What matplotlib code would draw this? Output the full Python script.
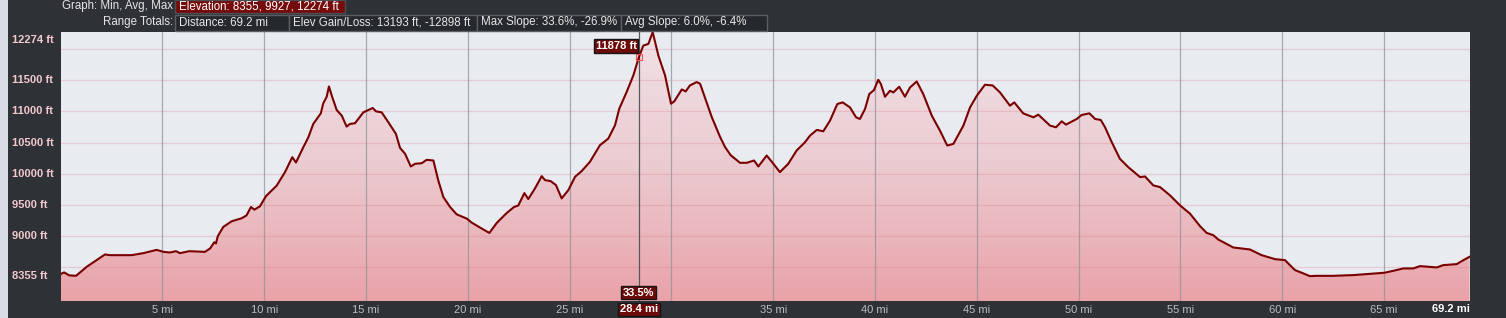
import numpy as np
import matplotlib
matplotlib.use("Agg")
import matplotlib.pyplot as plt
from matplotlib.patches import Rectangle, Polygon
from matplotlib.colors import LinearSegmentedColormap
from matplotlib.transforms import blended_transform_factory

# elevation profile (miles, feet)
distance_mi = [
    0.00, 0.17, 0.43, 0.76, 1.28, 2.18, 2.43, 3.49, 4.06, 4.72, 5.05, 5.37, 5.67, 5.86,
    6.32, 7.09, 7.34, 7.55, 7.63, 7.72, 7.99, 8.40, 8.89, 9.13, 9.35, 9.52, 9.79, 10.09,
    10.61, 11.02, 11.38, 11.56, 11.92, 12.17, 12.41, 12.78, 12.90, 13.07, 13.18, 13.32,
    13.56, 13.81, 14.05, 14.21, 14.46, 14.87, 15.33, 15.49, 15.77, 16.10, 16.47, 16.67,
    16.92, 17.20, 17.41, 17.74, 17.98, 18.31, 18.55, 18.80, 19.13, 19.45, 19.95, 20.19,
    20.60, 21.06, 21.42, 21.91, 22.27, 22.48, 22.78, 22.97, 23.30, 23.63, 23.79, 24.07,
    24.33, 24.61, 24.94, 25.27, 25.59, 26.00, 26.49, 26.90, 27.23, 27.44, 27.80, 28.13,
    28.41, 28.62, 28.87, 29.08, 29.36, 29.69, 29.98, 30.14, 30.51, 30.70, 30.91, 31.24,
    31.41, 31.98, 32.39, 32.63, 32.91, 33.37, 33.70, 34.06, 34.27, 34.68, 35.01, 35.33,
    35.74, 36.15, 36.56, 36.81, 37.14, 37.46, 37.79, 38.15, 38.41, 38.77, 39.07, 39.26,
    39.51, 39.72, 39.95, 40.16, 40.29, 40.49, 40.74, 40.90, 41.19, 41.47, 41.72, 42.05,
    42.37, 42.79, 43.19, 43.55, 43.85, 44.34, 44.67, 45.00, 45.40, 45.78, 46.14, 46.63,
    46.84, 47.28, 47.78, 48.02, 48.60, 48.89, 49.17, 49.38, 49.91, 50.15, 50.53, 50.81,
    51.09, 51.30, 51.63, 52.03, 52.44, 53.02, 53.26, 53.67, 54.00, 54.49, 54.98, 55.47,
    55.96, 56.29, 56.62, 56.86, 57.60, 58.42, 58.99, 59.65, 60.14, 60.38, 60.63, 61.04,
    61.36, 61.69, 62.51, 63.49, 64.15, 65.01, 65.46, 65.95, 66.44, 66.77, 67.59, 67.91,
    68.57, 68.90, 69.20,
]
elevation_ft = [
    8388, 8415, 8367, 8361, 8505, 8703, 8692, 8692, 8724, 8777, 8745, 8735, 8756, 8724,
    8756, 8745, 8799, 8900, 8880, 8996, 9145, 9236, 9284, 9330, 9465, 9423, 9476, 9641,
    9807, 10025, 10265, 10180, 10425, 10585, 10799, 10969, 11129, 11236, 11401, 11252,
    11023, 10932, 10756, 10799, 10810, 10985, 11055, 11001, 10985, 10825, 10639, 10415,
    10319, 10116, 10159, 10169, 10223, 10212, 9892, 9625, 9465, 9348, 9279, 9215,
    9135, 9049, 9209, 9369, 9465, 9490, 9689, 9593, 9764, 9961, 9897, 9881,
    9817, 9604, 9737, 9951, 10041, 10191, 10457, 10564, 10777, 11044, 11311, 11577,
    11878, 12057, 12084, 12274, 11897, 11577, 11124, 11161, 11353, 11321, 11417, 11471,
    11444, 10911, 10591, 10431, 10297, 10175, 10175, 10212, 10116, 10292, 10159, 10025,
    10159, 10372, 10505, 10612, 10703, 10681, 10852, 11119, 11145, 11065, 10905, 10879,
    11039, 11279, 11343, 11508, 11440, 11236, 11332, 11305, 11396, 11236, 11385, 11481,
    11279, 10932, 10692, 10452, 10479, 10772, 11065, 11252, 11428, 11417, 11305, 11092,
    11145, 10969, 10905, 10948, 10772, 10745, 10841, 10788, 10879, 10943, 10969, 10879,
    10863, 10745, 10505, 10239, 10105, 9945, 9956, 9812, 9785, 9652, 9492, 9359,
    9160, 9049, 9012, 8943, 8815, 8783, 8692, 8628, 8612, 8532, 8452, 8399,
    8355, 8360, 8360, 8372, 8388, 8409, 8441, 8479, 8479, 8516, 8495, 8532,
    8548, 8612, 8665,
]

x_ticks = [5, 10, 15, 20, 25, 30, 35, 40, 45, 50, 55, 60, 65]
x_tick_labels = ["5 mi", "10 mi", "15 mi", "20 mi", "25 mi", "", "35 mi", "40 mi",
                 "45 mi", "50 mi", "55 mi", "60 mi", "65 mi"]
y_grid = [8500, 9000, 9500, 10000, 10500, 11000, 11500, 12000]
y_labels = [12274, 11500, 11000, 10500, 10000, 9500, 9000, 8355]
total_mi = 69.2

cursor_mi = 28.4
cursor_ft = 11878
cursor_slope = "33.5%"

header_row1 = ["Elevation: 8355, 9927, 12274 ft"]
header_row2 = ["Distance: 69.2 mi", "Elev Gain/Loss: 13193 ft, -12898 ft",
               "Max Slope: 33.6%, -26.9%", "Avg Slope: 6.0%, -6.4%"]

W, H = 1506, 318
BG = "#2e3136"
FONT = "Liberation Sans"

fig = plt.figure(figsize=(W / 100, H / 100), dpi=100, facecolor=BG)


def fx(px):
    return px / W


def fy(py):
    return 1 - py / H


ax = fig.add_axes([fx(60.6), fy(301), fx(1469.5) - fx(60.6), fy(31.7) - fy(301)])
ax.set_facecolor("#e8ebf0")
ymin, ymax = 7956, 12280

# gradient fill under the profile
verts = list(zip(distance_mi, elevation_ft)) + [(distance_mi[-1], ymin), (distance_mi[0], ymin)]
clip = Polygon(verts, closed=True, facecolor="none", edgecolor="none")
ax.add_patch(clip)
cmap = LinearSegmentedColormap.from_list("elev", ["#e9a2a8", "#ebcbd1", "#f0e2e6"])
grad = np.linspace(0, 1, 256).reshape(-1, 1)
im = ax.imshow(grad, extent=[0, total_mi, ymin, ymax], origin="lower", aspect="auto",
               cmap=cmap, zorder=1)
im.set_clip_path(clip)

for v in y_grid:
    ax.axhline(v, color="#e07888", alpha=0.28, lw=0.9, zorder=2)
for v in x_ticks:
    ax.axvline(v, color="#8f9398", alpha=0.75, lw=0.9, zorder=2)

ax.plot(distance_mi, elevation_ft, color="#7a0000", lw=1.5, zorder=4)

# cursor
ax.axvline(cursor_mi, color="#55585c", lw=0.9, zorder=3)
ax.plot([cursor_mi], [cursor_ft], marker="s", ms=5, mfc="none", mec="#ff5050", mew=0.8, zorder=5)

ax.set_xlim(0, total_mi)
ax.set_ylim(ymin, ymax)
for s in ax.spines.values():
    s.set_visible(False)

ax.set_xticks(x_ticks)
ax.set_xticklabels(x_tick_labels, fontsize=8, color="#b9bdc2", family=FONT)
ax.tick_params(axis="x", length=0, pad=3)
ax.set_yticks([])

xtr = blended_transform_factory(ax.transData, ax.transAxes)
ax.text(total_mi, -0.012, "69.2 mi", transform=xtr, ha="right", va="top", fontsize=8,
        color="white", fontweight="bold", family=FONT)

box = dict(boxstyle="square,pad=0.15", fc="#6e0a0a", ec="#151515", lw=1)
ax.text(cursor_mi, -0.012, f"{cursor_mi} mi", transform=xtr, ha="center", va="top", fontsize=8,
        color="white", fontweight="bold", family=FONT, bbox=box, zorder=6)
ax.text(cursor_mi, 0.012, cursor_slope, transform=xtr, ha="center", va="bottom", fontsize=8,
        color="white", fontweight="bold", family=FONT, bbox=box, zorder=6)
ax.text(cursor_mi - 0.1, ymax - 150, f"{cursor_ft} ft", ha="right", va="top", fontsize=8,
        color="white", fontweight="bold", family=FONT, bbox=box, zorder=6)

# y labels, left aligned in the dark margin
ytr = blended_transform_factory(fig.transFigure, ax.transData)
for v in y_labels:
    fig.text(fx(11.7), min(v, 12148), f"{v} ft", transform=ytr, ha="left", va="center",
             fontsize=8, color="#f2c8cd", fontweight="bold", family=FONT)

# light strip at the left edge
fig.patches.append(Rectangle((0, 0), fx(8), 1, transform=fig.transFigure,
                             fc="#d8dde5", ec="none", zorder=0))

# header rows
HFS = 8.3
fig.text(fx(173), fy(6.5), "Graph: Min, Avg, Max", ha="right", va="center",
         fontsize=HFS, color="#e6e6e6", family=FONT)
fig.patches.append(Rectangle((fx(175), fy(13)), fx(345) - fx(175), fy(0) - fy(13),
                             transform=fig.transFigure, fc="#760b0b", ec="#4a4d52", lw=1))
fig.text(fx(179), fy(6.5), header_row1[0], ha="left", va="center", fontsize=HFS,
         color="white", family=FONT)

fig.text(fx(173), fy(22.5), "Range Totals:", ha="right", va="center",
         fontsize=HFS, color="#e6e6e6", family=FONT)
edges = [175, 289, 477, 621, 767]
for i, label in enumerate(header_row2):
    x0, x1 = edges[i], edges[i + 1]
    fig.patches.append(Rectangle((fx(x0), fy(30.5)), fx(x1) - fx(x0), fy(15) - fy(30.5),
                                 transform=fig.transFigure, fc="#25282c", ec="#5a5e63", lw=1))
    fig.text(fx(x0 + 4), fy(22.5), label, ha="left", va="center", fontsize=HFS,
             color="#e8e8e8", family=FONT)

fig.savefig("out.png", dpi=100, facecolor=BG)
